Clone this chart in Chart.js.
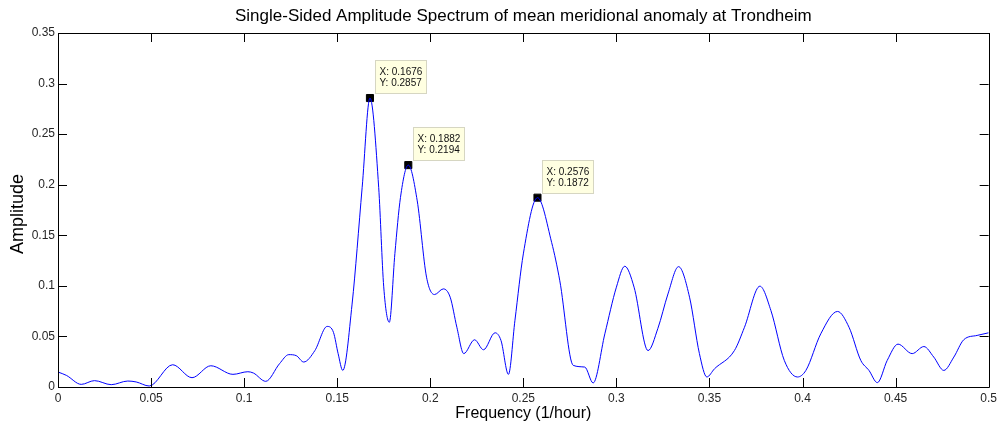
<!DOCTYPE html>
<html>
<head>
<meta charset="utf-8">
<title>Single-Sided Amplitude Spectrum</title>
<script src="https://cdn.jsdelivr.net/npm/chart.js@4"></script>
<style>
  html, body { margin: 0; padding: 0; background: #ffffff; }
  #wrap { width: 1001px; height: 427px; }
</style>
</head>
<body>
<div id="wrap"><canvas id="spec" width="1001" height="427"></canvas></div>
<script>
// Spectrum samples: frequency (1/hour) and amplitude
const freq = [
  0, 0.0045, 0.0125, 0.0196, 0.0286, 0.0375, 0.042, 0.049, 0.0616, 0.072,
  0.0821, 0.094, 0.102, 0.105, 0.1116, 0.119, 0.124, 0.128, 0.132, 0.138,
  0.1446, 0.148, 0.1505, 0.153, 0.158, 0.1634, 0.1676, 0.1723, 0.175, 0.178,
  0.181, 0.184, 0.1882, 0.193, 0.198, 0.2023, 0.207, 0.2107, 0.2143, 0.218,
  0.2238, 0.2286, 0.2348, 0.238, 0.242, 0.2455, 0.25, 0.2576, 0.2652, 0.2696,
  0.2768, 0.283, 0.2875, 0.2938, 0.30, 0.3045, 0.3095, 0.317, 0.3223, 0.3277,
  0.3334, 0.3393, 0.3446, 0.3486, 0.3527, 0.3634, 0.3688, 0.3771, 0.383, 0.3902,
  0.3973, 0.4018, 0.4098, 0.4188, 0.425, 0.4313, 0.4357, 0.4402, 0.4455, 0.4513,
  0.4589, 0.4652, 0.4705, 0.4759, 0.4813, 0.4866, 0.4938, 0.5
];
const amplitude = [
  0.0148, 0.0115, 0.0026, 0.0063, 0.0023, 0.0059, 0.005, 0.001, 0.022, 0.0092,
  0.021, 0.0125, 0.0151, 0.0138, 0.0056, 0.023, 0.032, 0.031, 0.0247, 0.036,
  0.0599, 0.054, 0.033, 0.0164, 0.082, 0.197, 0.2857, 0.197, 0.099, 0.064,
  0.132, 0.1875, 0.2194, 0.184, 0.1086, 0.0914, 0.097, 0.0888, 0.059, 0.033,
  0.0467, 0.0368, 0.0536, 0.046, 0.0125, 0.066, 0.1316, 0.1872, 0.143, 0.105,
  0.0214, 0.0197, 0.004, 0.0526, 0.0987, 0.1194, 0.0987, 0.036, 0.058, 0.092,
  0.119, 0.0888, 0.033, 0.0099, 0.018, 0.036, 0.059, 0.0997, 0.0757, 0.0263,
  0.0099, 0.0164, 0.0526, 0.0747, 0.059, 0.0263, 0.0164, 0.0043, 0.0263, 0.0424,
  0.033, 0.040, 0.0296, 0.0164, 0.0296, 0.0467, 0.051, 0.0536
];

// Data cursors placed on the three main peaks
const tipFreq = [0.1676, 0.1882, 0.2576];
const tipAmp  = [0.2857, 0.2194, 0.1872];

// Axis ticks
const xTicks = [0, 0.05, 0.1, 0.15, 0.2, 0.25, 0.3, 0.35, 0.4, 0.45, 0.5];
const xTickLabels = ['0', '0.05', '0.1', '0.15', '0.2', '0.25', '0.3', '0.35', '0.4', '0.45', '0.5'];
const yTicks = [0, 0.05, 0.1, 0.15, 0.2, 0.25, 0.3, 0.35];
const yTickLabels = ['0', '0.05', '0.1', '0.15', '0.2', '0.25', '0.3', '0.35'];

const titleText = 'Single-Sided Amplitude Spectrum of mean meridional anomaly at Trondheim';
const xTitle = 'Frequency (1/hour)';
const yTitle = 'Amplitude';

const FONT = 'Arial, "Liberation Sans", Helvetica, sans-serif';

const spectrum = freq.map((f, i) => ({ x: f, y: amplitude[i] }));
const tips = tipFreq.map((f, i) => ({ x: f, y: tipAmp[i] }));

// Axes box with inward ticks on all four sides, axis titles, and data cursor boxes
const matlabAxes = {
  id: 'matlabAxes',
  afterDatasetsDraw(chart) {
    const { ctx, chartArea: a, scales } = chart;
    const xs = scales.x, ys = scales.y;
    const TL = 9;
    ctx.save();
    ctx.strokeStyle = '#000000';
    ctx.lineWidth = 1;
    ctx.beginPath();
    ctx.rect(Math.round(a.left) + 0.5, Math.round(a.top) + 0.5,
             Math.round(a.right - a.left), Math.round(a.bottom - a.top));
    ctx.stroke();

    ctx.beginPath();
    xTicks.forEach(v => {
      const px = Math.round(xs.getPixelForValue(v)) + 0.5;
      ctx.moveTo(px, a.bottom); ctx.lineTo(px, a.bottom - TL);
      ctx.moveTo(px, a.top); ctx.lineTo(px, a.top + TL);
    });
    yTicks.forEach(v => {
      const py = Math.round(ys.getPixelForValue(v)) + 0.5;
      ctx.moveTo(a.left, py); ctx.lineTo(a.left + TL, py);
      ctx.moveTo(a.right, py); ctx.lineTo(a.right - TL, py);
    });
    ctx.stroke();

    // axis titles
    ctx.fillStyle = '#000000';
    ctx.textAlign = 'center';
    ctx.textBaseline = 'middle';
    ctx.font = '16px ' + FONT;
    ctx.fillText(xTitle, (a.left + a.right) / 2, 414);
    ctx.save();
    ctx.translate(18, (a.top + a.bottom) / 2 + 4);
    ctx.rotate(-Math.PI / 2);
    ctx.font = '18px ' + FONT;
    ctx.fillText(yTitle, 0, 0);
    ctx.restore();

    // data cursor labels
    tips.forEach(p => {
      const mx = xs.getPixelForValue(p.x);
      const my = ys.getPixelForValue(p.y);
      const bx = Math.round(mx + 5) + 0.5;
      const by = Math.round(my - 38) + 0.5;
      const bw = 51, bh = 33;
      ctx.fillStyle = '#ffffe1';
      ctx.strokeStyle = '#d6d6c2';
      ctx.lineWidth = 1;
      ctx.fillRect(bx, by, bw, bh);
      ctx.strokeRect(bx, by, bw, bh);
      ctx.fillStyle = '#111111';
      ctx.font = '10px ' + FONT;
      ctx.textAlign = 'left';
      ctx.textBaseline = 'middle';
      ctx.fillText('X: ' + p.x.toFixed(4), bx + 4, by + 11.5);
      ctx.fillText('Y: ' + p.y.toFixed(4), bx + 4, by + 23);
    });
    ctx.restore();
  }
};

new Chart(document.getElementById('spec'), {
  type: 'line',
  data: {
    datasets: [
      {
        data: spectrum,
        borderColor: '#0000ff',
        borderWidth: 1,
        pointRadius: 0,
        fill: false,
        cubicInterpolationMode: 'monotone'
      },
      {
        data: tips,
        showLine: false,
        pointStyle: 'rect',
        pointRadius: 5,
        borderWidth: 1,
        backgroundColor: '#000000',
        borderColor: '#000000'
      }
    ]
  },
  options: {
    responsive: false,
    animation: false,
    events: [],
    layout: { padding: { left: 0, right: 9, top: 0, bottom: 0 } },
    plugins: {
      legend: { display: false },
      tooltip: { enabled: false },
      title: {
        display: true,
        text: titleText,
        fullSize: false,
        color: '#000000',
        font: { family: FONT, size: 17, weight: 'normal', lineHeight: 1.2 },
        padding: { top: 6.3, bottom: 6.3 }
      }
    },
    scales: {
      x: {
        type: 'linear',
        min: 0,
        max: 0.5,
        afterBuildTicks: s => { s.ticks = xTicks.map(v => ({ value: v })); },
        afterFit: s => { s.height = 40; },
        grid: { display: false, drawTicks: false },
        border: { display: false },
        ticks: {
          padding: 4,
          maxRotation: 0,
          autoSkip: false,
          color: '#262626',
          font: { family: FONT, size: 12 },
          callback: v => xTickLabels[xTicks.indexOf(v)] ?? ''
        }
      },
      y: {
        type: 'linear',
        min: 0,
        max: 0.35,
        afterBuildTicks: s => { s.ticks = yTicks.map(v => ({ value: v })); },
        afterFit: s => { s.width = 58; },
        grid: { display: false, drawTicks: false },
        border: { display: false },
        ticks: {
          padding: 3,
          autoSkip: false,
          color: '#262626',
          font: { family: FONT, size: 12 },
          callback: v => yTickLabels[yTicks.indexOf(v)] ?? ''
        }
      }
    }
  },
  plugins: [matlabAxes]
});
</script>
</body>
</html>
